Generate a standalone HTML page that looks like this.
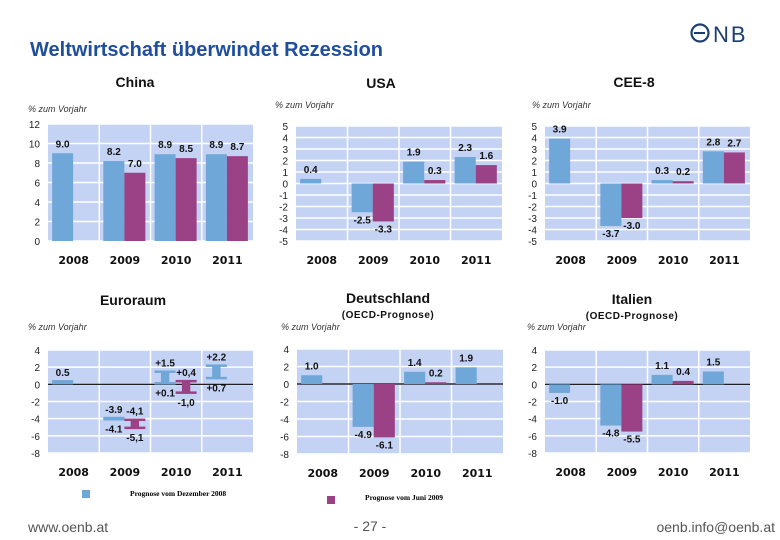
<!DOCTYPE html>
<html><head><meta charset="utf-8">
<style>
body{margin:0;background:#fff;width:780px;height:540px;overflow:hidden;font-family:"Liberation Sans",sans-serif}
svg{position:absolute;left:0;top:0}
</style></head>
<body>
<svg id="c" width="780" height="540">
<text x="30" y="56" font-size="20" font-weight="bold" fill="#1f4f9c">Weltwirtschaft überwindet Rezession</text>
<g>
<circle cx="700" cy="33" r="8.5" fill="none" stroke="#1c3f6e" stroke-width="2.2"/>
<line x1="694" y1="33" x2="705" y2="33" stroke="#1c3f6e" stroke-width="2"/>
<text x="713" y="42" font-size="22" fill="#1c3f6e" letter-spacing="2">NB</text>
</g>
<rect x="82" y="490" width="8" height="8" fill="#6fa8d8"/>
<text x="130" y="496" font-size="7.5" font-weight="bold" font-family="Liberation Serif,serif">Prognose vom Dezember 2008</text>
<rect x="327" y="496" width="8" height="8" fill="#9b4287"/>
<text x="365" y="500" font-size="7.5" font-weight="bold" font-family="Liberation Serif,serif">Prognose vom Juni 2009</text>
<text x="28" y="532" font-size="14" fill="#555">www.oenb.at</text>
<text x="370" y="531" font-size="14" fill="#555" text-anchor="middle">- 27 -</text>
<text x="775" y="532" font-size="14" fill="#555" text-anchor="end">oenb.info@oenb.at</text>
</svg>
<script>
const years = ["2008","2009","2010","2011"];
const chinaDec = [9.0, 8.2, 8.9, 8.9];
const chinaJun = [null, 7.0, 8.5, 8.7];
const usaDec = [0.4, -2.5, 1.9, 2.3];
const usaJun = [null, -3.3, 0.3, 1.6];
const ceeDec = [3.9, -3.7, 0.3, 2.8];
const ceeJun = [null, -3.0, 0.2, 2.7];
const euroDecLow = [0, -4.1, 0.1, 0.7];
const euroDecHigh = [0.5, -3.9, 1.5, 2.2];
const euroJunLow = [null, -5.1, -1.0, null];
const euroJunHigh = [null, -4.1, 0.4, null];
const deDec = [1.0, -4.9, 1.4, 1.9];
const deJun = [null, -6.1, 0.2, null];
const itDec = [-1.0, -4.8, 1.1, 1.5];
const itJun = [null, -5.5, 0.4, null];
const ticksChina = [0,2,4,6,8,10,12];
const ticksTop = [-5,-4,-3,-2,-1,0,1,2,3,4,5];
const ticksBottom = [-8,-6,-4,-2,0,2,4];

const NS="http://www.w3.org/2000/svg";
const svg=document.getElementById('c');
function mk(tag,attrs,parent){const e=document.createElementNS(NS,tag);for(const k in attrs)e.setAttribute(k,attrs[k]);(parent||svg).appendChild(e);return e;}
function fmt(v,sign,comma){let s=Math.abs(v).toFixed(1);if(comma)s=s.replace('.',',');if(v<0)s='-'+s;else if(sign)s='+'+s;return s;}

const panels=[
 {name:'china',title:'China',tx:135,ty:87,x0:48,x1:253,y0:124,y1:241,ticks:ticksChina,dec:chinaDec,jun:chinaJun,unitX:28,unitY:112},
 {name:'usa',title:'USA',tx:381,ty:88,x0:296,x1:502,y0:126,y1:241,ticks:ticksTop,dec:usaDec,jun:usaJun,unitX:275,unitY:108},
 {name:'cee8',title:'CEE-8',tx:634,ty:87,x0:545,x1:750,y0:126,y1:241,ticks:ticksTop,dec:ceeDec,jun:ceeJun,unitX:532,unitY:108},
 {name:'euroraum',title:'Euroraum',tx:133,ty:305,x0:48,x1:253,y0:350,y1:453,ticks:ticksBottom,range:true,unitX:28,unitY:330},
 {name:'deutschland',title:'Deutschland',sub:'(OECD-Prognose)',tx:388,ty:303,x0:297,x1:503,y0:349,y1:454,ticks:ticksBottom,dec:deDec,jun:deJun,unitX:281,unitY:330,zero:true},
 {name:'italien',title:'Italien',sub:'(OECD-Prognose)',tx:632,ty:304,x0:545,x1:750,y0:350,y1:453,ticks:ticksBottom,dec:itDec,jun:itJun,unitX:527,unitY:330,zero:true}
];
const BLUE='#6fa8d8',PURPLE='#9b4287';
panels.forEach(p=>{
 const g=mk('g',{});
 
 
 const t=mk('text',{x:p.tx,y:p.ty,'font-size':14,'font-weight':'bold','text-anchor':'middle',fill:'#111'},g);
 t.textContent=p.title;
 
 
 if(p.sub){const s=mk('text',{x:p.tx,y:p.ty+15,'font-size':10,'font-weight':'bold','text-anchor':'middle','letter-spacing':'0.5',fill:'#111'},g);s.textContent=p.sub;
  
  }
 const u=mk('text',{x:p.unitX,y:p.unitY,'font-size':9,'font-style':'italic',fill:'#333'},g);u.textContent='% zum Vorjahr';
 
 
 const tmin=p.ticks[0],tmax=p.ticks[p.ticks.length-1];
 const Y=v=>p.y1-(v-tmin)/(tmax-tmin)*(p.y1-p.y0);
 const cw=(p.x1-p.x0)/years.length;
 const X=i=>p.x0+i*cw;
 const bg=mk('rect',{x:p.x0,y:p.y0,width:p.x1-p.x0,height:p.y1-p.y0,fill:'#c4d2f4'},g);
 
 
 p.ticks.forEach(v=>{
  mk('line',{x1:p.x0,x2:p.x1,y1:Y(v),y2:Y(v),stroke:'#fff','stroke-width':1.5},g);
  const l=mk('text',{x:p.x0-8,y:Y(v)+4,'font-size':10,'text-anchor':'end',fill:'#222'},g);l.textContent=v;
  
  
 });
 for(let i=1;i<years.length;i++)mk('line',{x1:X(i),x2:X(i),y1:p.y0,y2:p.y1,stroke:'#fff','stroke-width':1.5},g);
 years.forEach((y,i)=>{const l=mk('text',{x:X(i)+cw/2,y:p.y1+23,'font-size':11,'font-weight':'bold','text-anchor':'middle','font-family':'DejaVu Sans,sans-serif',fill:'#111'},g);l.textContent=y;
  
  });
 const bw=cw*0.41;
 function label(txt,x,yv,above){const l=mk('text',{x:x,y:above?yv-4:yv+11,'font-size':10,'font-weight':'bold','text-anchor':'middle',fill:'#111'},g);l.textContent=txt;
  
  }
 if(p.range){
  mk('line',{x1:p.x0,x2:p.x1,y1:Y(0),y2:Y(0),stroke:'#000','stroke-width':1.2},g);
  const series=[[euroDecLow,euroDecHigh,BLUE,'dec'],[euroJunLow,euroJunHigh,PURPLE,'jun']];
  series.forEach(([lo,hi,col,nm],si)=>{
   years.forEach((y,i)=>{
    if(lo[i]==null)return;
    const bx=X(i)+cw*0.08+si*bw;
    const ya=Y(hi[i]),yb=Y(lo[i]);
    const b=mk('g',{},g);
    
    
    if(i===0){
     mk('rect',{x:bx,y:ya,width:bw,height:yb-ya,fill:col},b);
     label(fmt(hi[i]),bx+bw/2,ya,true);
     return;
    }
    mk('rect',{x:bx+bw*0.3,y:ya,width:bw*0.4,height:Math.max(yb-ya,1),fill:col},b);
    mk('rect',{x:bx,y:ya-1,width:bw,height:2.5,fill:col},b);
    mk('rect',{x:bx,y:yb-1.5,width:bw,height:2.5,fill:col},b);
    const c=nm==='jun';
    label(fmt(hi[i],hi[i]>0,c),bx+bw/2,ya-1,true);
    label(fmt(lo[i],lo[i]>0,c),bx+bw/2,yb+2,false);
   });
  });
 } else {
  if(p.zero)mk('line',{x1:p.x0,x2:p.x1,y1:Y(0),y2:Y(0),stroke:'#000','stroke-width':1.2},g);
  [[p.dec,BLUE,'dec'],[p.jun,PURPLE,'jun']].forEach(([arr,col,nm],si)=>{
   arr.forEach((v,i)=>{
    if(v==null)return;
    const bx=X(i)+cw*0.08+si*bw;
    const base=Math.max(0,tmin);
    const ya=Math.min(Y(v),Y(base)),yb=Math.max(Y(v),Y(base));
    const r=mk('rect',{x:bx,y:ya,width:bw,height:Math.max(yb-ya,1),fill:col},g);
    
    
    if(v>=0)label(fmt(v),bx+bw/2,ya-2,true);else label(fmt(v),bx+bw/2,yb,false);
   });
  });
 }
});
</script>
</body></html>
